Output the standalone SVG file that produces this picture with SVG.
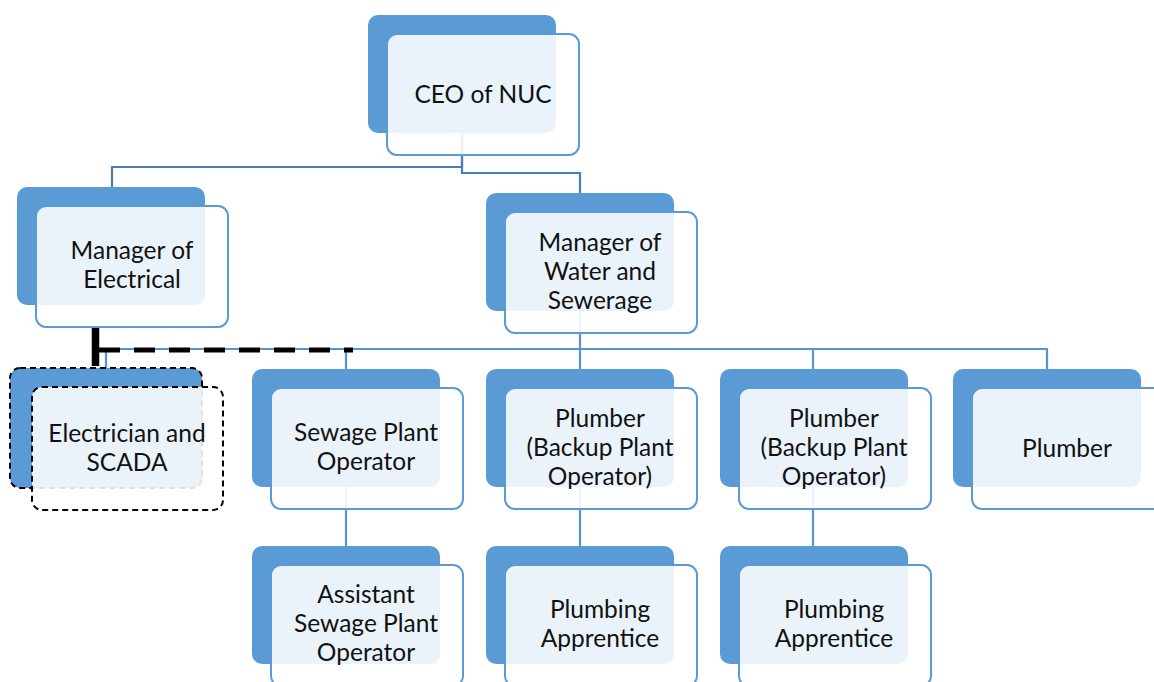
<svg xmlns="http://www.w3.org/2000/svg" xmlns:xlink="http://www.w3.org/1999/xlink" width="1154" height="682" viewBox="0 0 1154 682">
  <style>
    .back { fill: #5B9BD5; }
    .front { fill: #FFFFFF; fill-opacity: 0.88; stroke: #5B9BD5; stroke-width: 2; }
    .backd { fill: #5B9BD5; stroke: #000; stroke-width: 2; stroke-dasharray: 6 4; }
    .frontd { fill: #FFFFFF; fill-opacity: 0.88; stroke: #000; stroke-width: 2; stroke-dasharray: 6 4; }
    .lbl { font-family: Lato, "Liberation Sans", sans-serif; font-size: 24.5px; fill: #111; text-anchor: middle; }
    .c1 { fill: none; stroke: #4A7EBB; stroke-width: 2.2; }
    .c2 { fill: none; stroke: #5A93D0; stroke-width: 2.2; }
    .thick { fill: none; stroke: #000; stroke-width: 7.5; }
    .dash { fill: none; stroke: #000; stroke-width: 5; stroke-dasharray: 21 14; }
  </style>
  <defs>
    <g id="shape">
      <rect class="back" x="0" y="0" width="188" height="118" rx="10"/>
      <rect class="front" x="19" y="19" width="192" height="121" rx="10"/>
    </g>
  </defs>
  <rect width="1154" height="682" fill="#FFFFFF"/>

  <g id="connectors">
    <path class="c1" d="M462,134 V167 H112 V187"/>
    <path class="c1" d="M462,134 V173 H580 V193"/>
    <path class="c2" d="M580,310 V349"/>
    <path class="c2" d="M106,349 H1047"/>
    <path class="c2" d="M106,348 V368"/>
    <path class="c2" d="M346,348 V369"/>
    <path class="c2" d="M580,348 V369"/>
    <path class="c2" d="M813,348 V369"/>
    <path class="c2" d="M1047,348 V369"/>
    <path class="c2" d="M346,487 V546"/>
    <path class="c2" d="M580,487 V546"/>
    <path class="c2" d="M813,487 V546"/>
    <path class="thick" d="M95.5,327 V366"/>
    <path class="dash" d="M99,350 H353"/>
  </g>

  <g id="ceo">
    <use xlink:href="#shape" href="#shape" x="368" y="15"/>
    <text class="lbl" x="483" y="103">CEO of NUC</text>
  </g>

  <g id="mgr-electrical">
    <use xlink:href="#shape" href="#shape" x="17" y="187"/>
    <text class="lbl" x="132" y="259">Manager of</text>
    <text class="lbl" x="132" y="288">Electrical</text>
  </g>

  <g id="mgr-water">
    <use xlink:href="#shape" href="#shape" x="486" y="193"/>
    <text class="lbl" x="600" y="251">Manager of</text>
    <text class="lbl" x="600" y="280">Water and</text>
    <text class="lbl" x="600" y="309">Sewerage</text>
  </g>

  <g id="electrician">
    <rect class="backd" x="10" y="368" width="192" height="120" rx="10"/>
    <rect class="frontd" x="32" y="387" width="191" height="123" rx="10"/>
    <text class="lbl" x="127" y="442">Electrician and</text>
    <text class="lbl" x="127" y="471">SCADA</text>
  </g>

  <g id="sewage-operator">
    <use xlink:href="#shape" href="#shape" x="252" y="369"/>
    <text class="lbl" x="366" y="441">Sewage Plant</text>
    <text class="lbl" x="366" y="470">Operator</text>
  </g>

  <g id="plumber-backup-1">
    <use xlink:href="#shape" href="#shape" x="486" y="369"/>
    <text class="lbl" x="600" y="427">Plumber</text>
    <text class="lbl" x="600" y="456">(Backup Plant</text>
    <text class="lbl" x="600" y="485">Operator)</text>
  </g>

  <g id="plumber-backup-2">
    <use xlink:href="#shape" href="#shape" x="720" y="369"/>
    <text class="lbl" x="834" y="427">Plumber</text>
    <text class="lbl" x="834" y="456">(Backup Plant</text>
    <text class="lbl" x="834" y="485">Operator)</text>
  </g>

  <g id="plumber">
    <use xlink:href="#shape" href="#shape" x="953" y="369"/>
    <text class="lbl" x="1067" y="457">Plumber</text>
  </g>

  <g id="asst-sewage-operator">
    <use xlink:href="#shape" href="#shape" x="252" y="546"/>
    <text class="lbl" x="366" y="603">Assistant</text>
    <text class="lbl" x="366" y="632">Sewage Plant</text>
    <text class="lbl" x="366" y="661">Operator</text>
  </g>

  <g id="plumbing-apprentice-1">
    <use xlink:href="#shape" href="#shape" x="486" y="546"/>
    <text class="lbl" x="600" y="618">Plumbing</text>
    <text class="lbl" x="600" y="647">Apprentice</text>
  </g>

  <g id="plumbing-apprentice-2">
    <use xlink:href="#shape" href="#shape" x="720" y="546"/>
    <text class="lbl" x="834" y="618">Plumbing</text>
    <text class="lbl" x="834" y="647">Apprentice</text>
  </g>
</svg>
